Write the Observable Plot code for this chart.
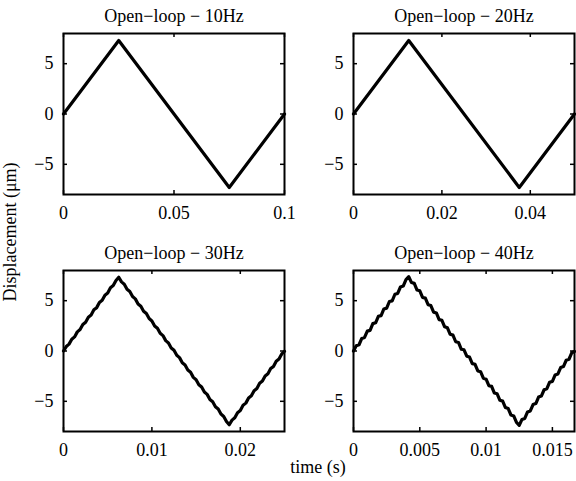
<!DOCTYPE html>
<html><head><meta charset="utf-8">
<script src="https://cdn.jsdelivr.net/npm/d3@7"></script>
<script src="https://cdn.jsdelivr.net/npm/@observablehq/plot@0.6"></script>
<style>
body{margin:0;background:#fff;}
#wrap{position:relative;width:576px;height:481px;font-family:"Liberation Serif","Times New Roman",serif;color:#000;overflow:hidden;}
.panel{position:absolute;}
.lab{position:absolute;font-size:18px;white-space:nowrap;line-height:1;}
</style></head><body><div id="wrap"></div>
<script>
const titles = ["Open\u2212loop \u2212 10Hz", "Open\u2212loop \u2212 20Hz", "Open\u2212loop \u2212 30Hz", "Open\u2212loop \u2212 40Hz"];
const yLabel = "Displacement (\u03bcm)";
const xLabel = "time (s)";

const yTicks = [-5, 0, 5];
const xTicks10 = [0, 0.05, 0.1];
const xTicks20 = [0, 0.02, 0.04];
const xTicks30 = [0, 0.01, 0.02];
const xTicks40 = [0, 0.005, 0.01, 0.015];
const xMax = [0.1, 0.05, 0.025, 0.016667];

const t10 = [0, 0.025, 0.075, 0.1];
const y10 = [0, 7.3, -7.3, 0];
const t20 = [0, 0.0125, 0.0375, 0.05];
const y20 = [0, 7.3, -7.3, 0];

const t30 = [
0, 0.0003125, 0.000625, 0.0009375, 0.00125, 0.0015625, 0.001875, 0.0021875, 0.0025, 0.0028125,
0.003125, 0.0034375, 0.00375, 0.0040625, 0.004375, 0.0046875, 0.005, 0.0053125, 0.005625, 0.0059375,
0.00625, 0.0065625, 0.006875, 0.0071875, 0.0075, 0.0078125, 0.008125, 0.0084375, 0.00875, 0.0090625,
0.009375, 0.0096875, 0.01, 0.0103125, 0.010625, 0.0109375, 0.01125, 0.0115625, 0.011875, 0.0121875,
0.0125, 0.0128125, 0.013125, 0.0134375, 0.01375, 0.0140625, 0.014375, 0.0146875, 0.015, 0.0153125,
0.015625, 0.0159375, 0.01625, 0.0165625, 0.016875, 0.0171875, 0.0175, 0.0178125, 0.018125, 0.0184375,
0.01875, 0.0190625, 0.019375, 0.0196875, 0.02, 0.0203125, 0.020625, 0.0209375, 0.02125, 0.0215625,
0.021875, 0.0221875, 0.0225, 0.0228125, 0.023125, 0.0234375, 0.02375, 0.0240625, 0.024375, 0.0246875,
0.025];
const y30 = [
0.00, 0.44, 0.68, 1.16, 1.40, 1.90, 2.13, 2.63, 2.86, 3.36,
3.58, 4.09, 4.31, 4.82, 5.04, 5.55, 5.77, 6.28, 6.50, 7.01,
7.33, 6.87, 6.64, 6.14, 5.91, 5.41, 5.18, 4.68, 4.45, 3.95,
3.72, 3.22, 2.99, 2.49, 2.26, 1.76, 1.53, 1.03, 0.80, 0.30,
0.07, -0.43, -0.66, -1.16, -1.39, -1.89, -2.12, -2.62, -2.85, -3.35,
-3.58, -4.08, -4.31, -4.81, -5.04, -5.54, -5.77, -6.27, -6.50, -7.00,
-7.33, -6.87, -6.64, -6.13, -5.91, -5.40, -5.18, -4.67, -4.45, -3.94,
-3.72, -3.21, -2.99, -2.48, -2.26, -1.75, -1.53, -1.02, -0.80, -0.29,
-0.03];

const t40 = [
0, 0.000208, 0.000417, 0.000625, 0.000833, 0.001042, 0.00125, 0.001458, 0.001667, 0.001875,
0.002083, 0.002292, 0.0025, 0.002708, 0.002917, 0.003125, 0.003333, 0.003542, 0.00375, 0.003958,
0.004167, 0.004375, 0.004583, 0.004792, 0.005, 0.005208, 0.005417, 0.005625, 0.005833, 0.006042,
0.00625, 0.006458, 0.006667, 0.006875, 0.007083, 0.007292, 0.0075, 0.007708, 0.007917, 0.008125,
0.008333, 0.008542, 0.00875, 0.008958, 0.009167, 0.009375, 0.009583, 0.009792, 0.01, 0.010208,
0.010417, 0.010625, 0.010833, 0.011042, 0.01125, 0.011458, 0.011667, 0.011875, 0.012083, 0.012292,
0.0125, 0.012708, 0.012917, 0.013125, 0.013333, 0.013542, 0.01375, 0.013958, 0.014167, 0.014375,
0.014583, 0.014792, 0.015, 0.015208, 0.015417, 0.015625, 0.015833, 0.016042, 0.01625, 0.016458,
0.016667];
const y40 = [
0.00, 0.52, 0.62, 1.25, 1.35, 1.98, 2.05, 2.72, 2.80, 3.45,
3.52, 4.18, 4.26, 4.92, 4.98, 5.64, 5.72, 6.36, 6.45, 7.10,
7.38, 6.80, 6.72, 6.06, 5.98, 5.32, 5.25, 4.60, 4.52, 3.86,
3.78, 3.12, 3.05, 2.40, 2.30, 1.66, 1.58, 0.92, 0.85, 0.18,
0.12, -0.52, -0.60, -1.25, -1.32, -1.98, -2.06, -2.70, -2.80, -3.45,
-3.52, -4.18, -4.25, -4.90, -4.98, -5.62, -5.72, -6.36, -6.45, -7.10,
-7.38, -6.80, -6.70, -6.06, -5.96, -5.32, -5.22, -4.58, -4.48, -3.85,
-3.75, -3.10, -3.02, -2.38, -2.28, -1.65, -1.55, -0.92, -0.82, -0.18,
-0.05];

const W = 288, H = 240, FW = 221, FH = 161, TICK = 4;
const fmtY = d => d < 0 ? "\u2212" + (-d) : String(d);

function panel(left, top, ml, mt, times, vals, xticks, xmax, title) {
  const data = times.map((t, i) => ({t, v: vals[i]}));
  const svg = Plot.plot({
    width: W, height: H,
    marginLeft: ml, marginRight: W - ml - FW,
    marginTop: mt, marginBottom: H - mt - FH,
    x: {domain: [0, xmax]},
    y: {domain: [-8, 8]},
    style: {fontFamily: "'Liberation Serif', 'Times New Roman', serif", fontSize: "18px", color: "#000", background: "transparent", overflow: "visible"},
    marks: [
      Plot.axisX(xticks, {tickSize: 0, tickPadding: 12, tickFormat: d => String(d), label: null}),
      Plot.axisY(yTicks, {tickSize: 0, tickPadding: 10, tickFormat: fmtY, label: null}),
      Plot.tickX(xticks, {x: d => d, insetTop: FH - TICK, strokeWidth: 1.5}),
      Plot.tickX(xticks, {x: d => d, insetBottom: FH - TICK, strokeWidth: 1.5}),
      Plot.tickY(yTicks, {y: d => d, insetRight: FW - TICK, strokeWidth: 1.5}),
      Plot.tickY(yTicks, {y: d => d, insetLeft: FW - TICK, strokeWidth: 1.5}),
      Plot.line(data, {x: "t", y: "v", stroke: "#000", strokeWidth: 3.2}),
      Plot.frame({stroke: "#000", strokeWidth: 2}),
      Plot.text([title], {frameAnchor: "top", dy: -12, lineAnchor: "bottom", fontSize: 18, fill: "#000"})
    ]
  });
  svg.classList.add("panel");
  svg.style.left = left + "px";
  svg.style.top = top + "px";
  return svg;
}

const wrap = document.getElementById("wrap");
wrap.appendChild(panel(0, 0, 63, 33, t10, y10, xTicks10, xMax[0], titles[0]));
wrap.appendChild(panel(288, 0, 65, 33, t20, y20, xTicks20, xMax[1], titles[1]));
wrap.appendChild(panel(0, 240, 63, 30, t30, y30, xTicks30, xMax[2], titles[2]));
wrap.appendChild(panel(288, 240, 65, 30, t40, y40, xTicks40, xMax[3], titles[3]));

const yl = document.createElement("div");
yl.className = "lab";
yl.textContent = yLabel;
yl.style.left = "10px";
yl.style.top = "232px";
yl.style.transform = "translate(-50%,-50%) rotate(-90deg)";
wrap.appendChild(yl);

const xl = document.createElement("div");
xl.className = "lab";
xl.textContent = xLabel;
xl.style.left = "318px";
xl.style.top = "467px";
xl.style.transform = "translate(-50%,-50%)";
wrap.appendChild(xl);
</script>
</body></html>
